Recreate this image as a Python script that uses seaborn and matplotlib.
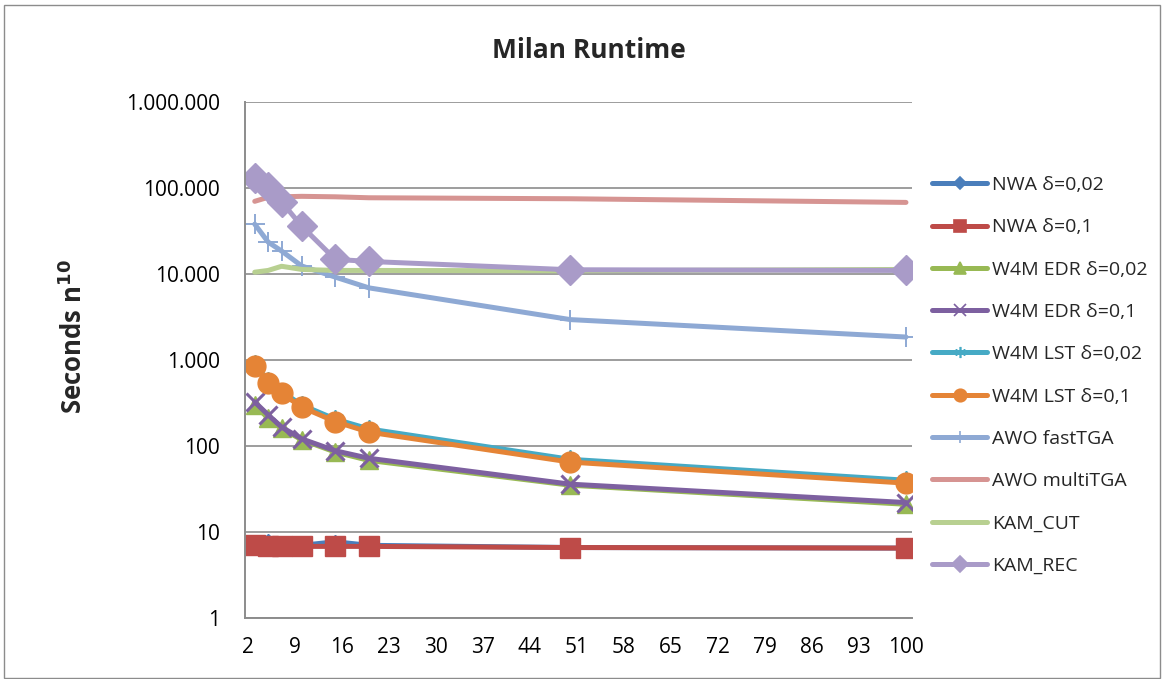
import numpy as np
import pandas as pd
import matplotlib
matplotlib.use("Agg")
import matplotlib.pyplot as plt
import seaborn as sns
from matplotlib.lines import Line2D
from matplotlib.patches import Rectangle
from matplotlib.ticker import FixedLocator, FixedFormatter, NullLocator

# ---------------- data ----------------
x_vals = [3, 5, 7, 10, 15, 20, 50, 100]
series_names = ["NWA δ=0,02", "NWA δ=0,1", "W4M EDR δ=0,02", "W4M EDR δ=0,1",
                "W4M LST δ=0,02", "W4M LST δ=0,1", "AWO fastTGA", "AWO multiTGA",
                "KAM_CUT", "KAM_REC"]
nwa_002 = [7.6, 7.9, 7.2, 7.0, 7.7, 7.0, 6.6, 6.5]
nwa_01 = [7.0, 6.9, 6.9, 6.8, 6.8, 6.8, 6.6, 6.5]
w4m_edr_002 = [300, 210, 160, 118, 85, 68, 35, 21]
w4m_edr_01 = [325, 230, 166, 121, 88, 72, 36, 22]
w4m_lst_002 = [900, 570, 430, 300, 205, 158, 70, 40]
w4m_lst_01 = [860, 540, 410, 283, 192, 145, 65, 37]
awo_fast = [38000, 23500, 18500, 12400, 9200, 6900, 2950, 1850]
awo_multi = [70000, 78000, 79000, 80000, 79000, 77000, 75000, 68000]
kam_cut = [10500, 11000, 12300, 11300, 11000, 11000, 10900, 11300]
kam_rec = [132000, 103000, 69000, 36000, 14800, 14000, 11200, 11000]
all_values = [nwa_002, nwa_01, w4m_edr_002, w4m_edr_01, w4m_lst_002, w4m_lst_01,
              awo_fast, awo_multi, kam_cut, kam_rec]

y_ticks = [1, 10, 100, 1000, 10000, 100000, 1000000]
y_tick_labels = ["1", "10", "100", "1.000", "10.000", "100.000", "1.000.000"]
x_ticks = list(range(2, 101, 7))

# ---------------- styles ----------------
colors = ["#4A7EBB", "#BE4B48", "#98B954", "#7D60A0", "#46AAC5", "#E58436",
          "#8EA9D4", "#D69492", "#B8D091", "#A99BC8"]
markers = ["D", "s", "^", "x", (6, 2, 0), "o", "+", None, None, "D"]
msizes = [7, 14, 12.5, 13, 13, 15, 15, 0, 0, 15]
mew = [1, 1, 1, 2.2, 1.4, 1, 1.4, 1, 1, 1]
legend_ms = [6, 9, 8, 8, 8, 9, 9, 0, 0, 8]

sns.set_theme(style="white")
fam = ["Open Sans", "DejaVu Sans"]
plt.rcParams["font.family"] = fam

fig = plt.figure(figsize=(11.64, 6.79), dpi=100)
ax = fig.add_axes([245 / 1164, 1 - 618 / 679, (912 - 245) / 1164, (618 - 102) / 679])

for name, vals, c, m, ms, mw in zip(series_names, all_values, colors, markers, msizes, mew):
    df = pd.DataFrame({"x": x_vals, "y": vals})
    kw = dict(marker=m, markersize=ms, markeredgewidth=mw,
              markeredgecolor=c, markerfacecolor=c) if m is not None else {}
    sns.lineplot(data=df, x="x", y="y", ax=ax, color=c, linewidth=3.6,
                 legend=False, sort=False, **kw)

ax.set_yscale("log")
ax.set_ylim(1, 1000000)
ax.set_xlim(1.55, 100.9)
ax.yaxis.set_major_locator(FixedLocator(y_ticks))
ax.yaxis.set_major_formatter(FixedFormatter(y_tick_labels))
ax.yaxis.set_minor_locator(NullLocator())
ax.set_xticks(x_ticks)
ax.set_xticklabels([str(t) for t in x_ticks])
ax.tick_params(axis="both", labelsize=15, colors="black", length=0)
ax.tick_params(axis="y", pad=18)
ax.tick_params(axis="x", pad=14)
for lab in ax.get_xticklabels() + ax.get_yticklabels():
    lab.set_family(fam)

ax.grid(axis="y", color="#8C8C8C", linewidth=1.2)
ax.grid(axis="x", visible=False)
ax.set_axisbelow(True)
for s in ["top", "right"]:
    ax.spines[s].set_visible(False)
for s in ["left", "bottom"]:
    ax.spines[s].set_color("#8C8C8C")
    ax.spines[s].set_linewidth(1.4)
ax.set_xlabel("")
ax.set_ylabel(r"Seconds n$^{\mathbf{10}}$", fontsize=18.5, fontweight="bold", family=fam)
ax.yaxis.set_label_coords((88 - 245) / 667, (618 - 337) / 516)

fig.text(589 / 1164, 1 - 50 / 679, "Milan Runtime", ha="center", va="center",
         fontsize=19, fontweight="bold", family=fam)

handles = []
for c, m, lms in zip(colors, markers, legend_ms):
    if m is None:
        handles.append(Line2D([], [], color=c, linewidth=3.6))
    else:
        handles.append(Line2D([], [], color=c, linewidth=3.6, marker=m, markersize=lms,
                              markeredgecolor=c, markerfacecolor=c, markeredgewidth=1.2))
leg = fig.legend(handles, series_names, loc="upper left",
                 bbox_to_anchor=(932 / 1164, 1 - 176 / 679), frameon=False,
                 handlelength=2.85, labelspacing=1.25, handletextpad=0.25,
                 borderpad=0, borderaxespad=0, prop={"family": fam, "size": 14})

fig.patches.append(Rectangle((4 / 1164, 0.002), 1 - 8 / 1164, 1 - 6 / 679,
                             transform=fig.transFigure, fill=False,
                             edgecolor="#8C8C8C", linewidth=1))

fig.savefig("out.png", dpi=100)
